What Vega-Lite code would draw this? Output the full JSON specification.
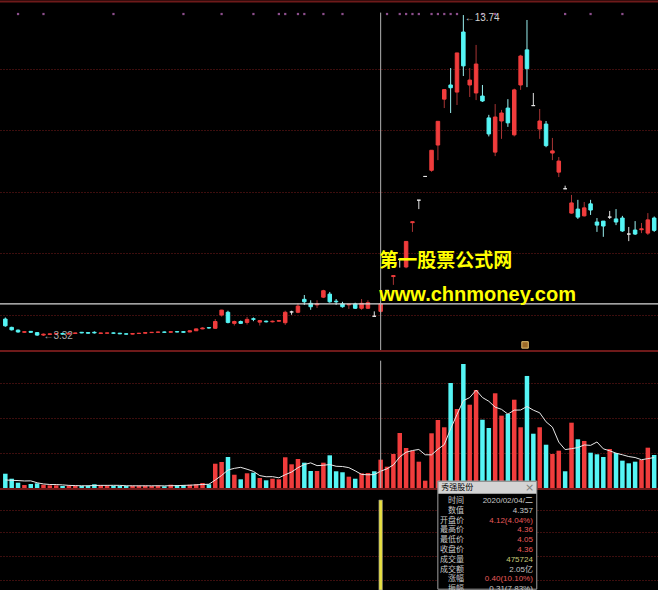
{
"$schema": "https://vega.github.io/schema/vega-lite/v6.json",
"background": "#000000",
"padding": 0,
"spacing": 0,
"bounds": "flush",
"config": {
  "view": {"stroke": null},
  "axis": {"labels": false, "ticks": false, "domain": false, "title": null, "grid": false, "gridColor": "#7a1c1c", "gridDash": [1, 2], "gridWidth": 1, "gridOpacity": 1},
  "concat": {"spacing": 0}
},
"datasets": {
  "k": [
    {"i":0,"o":3.87,"h":3.92,"l":3.62,"c":3.65,"v":24.0,"m":13.5},
    {"i":1,"o":3.60,"h":3.62,"l":3.50,"c":3.52,"v":15.6,"m":12.9},
    {"i":2,"o":3.51,"h":3.53,"l":3.43,"c":3.45,"v":8.9,"m":12.5,"s":1},
    {"i":3,"o":3.44,"h":3.47,"l":3.42,"c":3.46,"v":5.0,"m":11.8},
    {"i":4,"o":3.47,"h":3.48,"l":3.43,"c":3.44,"v":6.7,"m":12.0},
    {"i":5,"o":3.43,"h":3.44,"l":3.33,"c":3.35,"v":7.9,"m":8.8},
    {"i":6,"o":3.35,"h":3.40,"l":3.32,"c":3.38,"v":5.5,"m":6.8,"s":1},
    {"i":7,"o":3.37,"h":3.40,"l":3.35,"c":3.39,"v":4.5,"m":5.9},
    {"i":8,"o":3.38,"h":3.41,"l":3.36,"c":3.40,"v":4.5,"m":5.8},
    {"i":9,"o":3.40,"h":3.41,"l":3.37,"c":3.38,"v":3.4,"m":5.2},
    {"i":10,"o":3.38,"h":3.42,"l":3.37,"c":3.41,"v":3.9,"m":4.4},
    {"i":11,"o":3.40,"h":3.43,"l":3.39,"c":3.42,"v":3.9,"m":4.0},
    {"i":12,"o":3.44,"h":3.45,"l":3.41,"c":3.42,"v":3.4,"m":3.8},
    {"i":13,"o":3.43,"h":3.44,"l":3.40,"c":3.41,"v":3.9,"m":3.7},
    {"i":14,"o":3.44,"h":3.47,"l":3.40,"c":3.42,"v":6.2,"m":4.3},
    {"i":15,"o":3.40,"h":3.43,"l":3.39,"c":3.42,"v":4.5,"m":4.4},
    {"i":16,"o":3.41,"h":3.43,"l":3.40,"c":3.42,"v":3.9,"m":4.4},
    {"i":17,"o":3.42,"h":3.43,"l":3.40,"c":3.41,"v":3.9,"m":4.5,"s":1},
    {"i":18,"o":3.41,"h":3.42,"l":3.38,"c":3.39,"v":3.4,"m":4.4},
    {"i":19,"o":3.39,"h":3.40,"l":3.37,"c":3.38,"v":3.4,"m":3.8},
    {"i":20,"o":3.38,"h":3.41,"l":3.37,"c":3.40,"v":3.9,"m":3.7},
    {"i":21,"o":3.40,"h":3.42,"l":3.39,"c":3.41,"v":3.9,"m":3.7},
    {"i":22,"o":3.41,"h":3.44,"l":3.40,"c":3.43,"v":3.9,"m":3.7},
    {"i":23,"o":3.43,"h":3.45,"l":3.42,"c":3.44,"v":3.4,"m":3.7},
    {"i":24,"o":3.44,"h":3.46,"l":3.43,"c":3.45,"v":3.9,"m":3.8},
    {"i":25,"o":3.45,"h":3.46,"l":3.43,"c":3.44,"v":2.9,"m":3.6},
    {"i":26,"o":3.44,"h":3.47,"l":3.43,"c":3.46,"v":5.5,"m":3.9},
    {"i":27,"o":3.46,"h":3.47,"l":3.44,"c":3.45,"v":4.5,"m":4.0},
    {"i":28,"o":3.46,"h":3.47,"l":3.43,"c":3.44,"v":5.0,"m":4.4,"s":1},
    {"i":29,"o":3.45,"h":3.50,"l":3.44,"c":3.49,"v":5.5,"m":4.7},
    {"i":30,"o":3.49,"h":3.56,"l":3.48,"c":3.55,"v":6.2,"m":5.3},
    {"i":31,"o":3.55,"h":3.60,"l":3.54,"c":3.58,"v":8.4,"m":5.9},
    {"i":32,"o":3.59,"h":3.61,"l":3.56,"c":3.58,"v":6.2,"m":6.3},
    {"i":33,"o":3.57,"h":3.87,"l":3.55,"c":3.79,"v":40.8,"m":13.4},
    {"i":34,"o":4.00,"h":4.17,"l":3.95,"c":4.16,"v":43.7,"m":21.1,"s":1},
    {"i":35,"o":4.09,"h":4.14,"l":3.73,"c":3.76,"v":52.1,"m":30.2},
    {"i":36,"o":3.73,"h":3.82,"l":3.66,"c":3.79,"v":22.3,"m":33.0},
    {"i":37,"o":3.79,"h":3.82,"l":3.72,"c":3.73,"v":14.6,"m":34.7},
    {"i":38,"o":3.76,"h":3.94,"l":3.69,"c":3.86,"v":24.7,"m":31.5},
    {"i":39,"o":3.88,"h":3.92,"l":3.80,"c":3.86,"v":25.7,"m":27.9,"s":1},
    {"i":40,"o":3.77,"h":3.84,"l":3.66,"c":3.82,"v":16.8,"m":20.8},
    {"i":41,"o":3.80,"h":3.82,"l":3.76,"c":3.78,"v":12.9,"m":18.9},
    {"i":42,"o":3.78,"h":3.82,"l":3.76,"c":3.80,"v":15.6,"m":19.1},
    {"i":43,"o":3.80,"h":3.84,"l":3.78,"c":3.82,"v":14.6,"m":17.1,"s":1},
    {"i":44,"o":3.75,"h":4.14,"l":3.68,"c":4.09,"v":51.6,"m":22.3,"s":1},
    {"i":45,"o":4.10,"h":4.14,"l":4.01,"c":4.10,"pc":4.09,"v":39.8,"m":26.9},
    {"i":46,"o":4.09,"h":4.38,"l":4.06,"c":4.29,"v":48.7,"m":34.1,"s":1},
    {"i":47,"o":4.51,"h":4.65,"l":4.33,"c":4.43,"v":42.5,"m":39.4,"s":1},
    {"i":48,"o":4.38,"h":4.48,"l":4.17,"c":4.27,"v":28.6,"m":42.2},
    {"i":49,"o":4.33,"h":4.48,"l":4.23,"c":4.36,"v":28.6,"m":37.6},
    {"i":50,"o":4.58,"h":4.82,"l":4.55,"c":4.79,"v":42.5,"m":38.2,"s":1},
    {"i":51,"o":4.68,"h":4.75,"l":4.40,"c":4.43,"v":54.9,"m":39.4},
    {"i":52,"o":4.45,"h":4.52,"l":4.33,"c":4.43,"v":28.1,"m":36.5},
    {"i":53,"o":4.36,"h":4.43,"l":4.24,"c":4.27,"v":26.4,"m":36.1,"s":1},
    {"i":54,"o":4.33,"h":4.36,"l":4.20,"c":4.35,"v":19.0,"m":34.2},
    {"i":55,"o":4.36,"h":4.40,"l":4.20,"c":4.22,"v":15.6,"m":28.8},
    {"i":56,"o":4.22,"h":4.52,"l":4.17,"c":4.38,"v":24.7,"m":22.8},
    {"i":57,"o":4.22,"h":4.48,"l":4.20,"c":4.40,"v":25.2,"m":22.2},
    {"i":58,"o":3.96,"h":4.12,"l":3.96,"c":3.96,"pc":4.40,"v":28.1,"m":22.5},
    {"i":59,"o":4.12,"h":4.36,"l":4.05,"c":4.36,"v":47.6,"m":28.2,"ind":4.357},
    {"i":60,"o":4.80,"h":4.80,"l":4.80,"c":4.80,"pc":4.36,"v":35.8,"m":32.3,"s":1},
    {"i":61,"o":5.25,"h":5.28,"l":4.98,"c":5.28,"v":57.1,"m":38.8},
    {"i":62,"o":5.81,"h":5.81,"l":5.54,"c":5.81,"pc":5.28,"v":92.4,"m":52.2,"s":1},
    {"i":63,"o":5.56,"h":6.39,"l":5.52,"c":6.39,"v":67.2,"m":60.0,"s":1},
    {"i":64,"o":7.00,"h":7.03,"l":6.70,"c":7.03,"v":62.7,"m":63.0,"s":1},
    {"i":65,"o":7.73,"h":7.73,"l":7.44,"c":7.73,"pc":7.03,"v":44.2,"m":64.7,"s":1},
    {"i":66,"o":8.50,"h":8.50,"l":8.50,"c":8.50,"pc":7.73,"v":12.3,"m":55.8},
    {"i":67,"o":8.70,"h":9.35,"l":8.65,"c":9.35,"v":91.9,"m":55.7,"s":1},
    {"i":68,"o":9.52,"h":10.29,"l":9.03,"c":10.29,"v":114.2,"m":65.1,"s":1},
    {"i":69,"o":11.01,"h":11.32,"l":10.72,"c":11.32,"v":102.0,"m":72.9,"s":1},
    {"i":70,"o":11.47,"h":12.02,"l":10.56,"c":11.38,"v":176.4,"m":99.4,"s":1},
    {"i":71,"o":11.24,"h":12.51,"l":10.82,"c":12.51,"v":132.7,"m":123.4,"s":1},
    {"i":72,"o":13.19,"h":13.74,"l":11.76,"c":12.09,"v":208.3,"m":146.7},
    {"i":73,"o":11.47,"h":12.02,"l":11.08,"c":11.63,"v":139.9,"m":151.9},
    {"i":74,"o":11.21,"h":12.77,"l":10.98,"c":12.15,"v":164.6,"m":164.4},
    {"i":75,"o":11.11,"h":11.47,"l":10.92,"c":10.95,"v":114.7,"m":152.0,"s":1},
    {"i":76,"o":10.40,"h":10.50,"l":9.80,"c":9.88,"v":100.8,"m":145.7},
    {"i":77,"o":9.29,"h":10.85,"l":9.16,"c":10.43,"v":159.1,"m":135.8,"s":1},
    {"i":78,"o":10.30,"h":10.66,"l":9.72,"c":10.56,"v":121.5,"m":132.1},
    {"i":79,"o":10.72,"h":11.01,"l":10.11,"c":10.24,"v":124.3,"m":124.1},
    {"i":80,"o":9.85,"h":11.35,"l":9.80,"c":11.31,"v":148.3,"m":130.8},
    {"i":81,"o":11.47,"h":12.45,"l":11.31,"c":12.41,"v":102.0,"m":131.0},
    {"i":82,"o":12.61,"h":13.58,"l":11.40,"c":12.00,"v":188.2,"m":136.9},
    {"i":83,"o":10.80,"h":11.21,"l":10.80,"c":10.80,"pc":12.00,"v":91.2,"m":130.8},
    {"i":84,"o":10.04,"h":10.69,"l":9.72,"c":10.30,"v":102.0,"m":126.3},
    {"i":85,"o":10.20,"h":10.30,"l":9.45,"c":9.50,"v":72.7,"m":111.2},
    {"i":86,"o":9.26,"h":9.75,"l":9.03,"c":9.33,"v":57.1,"m":102.2},
    {"i":87,"o":8.64,"h":9.13,"l":8.48,"c":9.00,"v":62.7,"m":77.1},
    {"i":88,"o":8.10,"h":8.20,"l":8.10,"c":8.10,"pc":9.00,"v":28.1,"m":64.5,"s":1},
    {"i":89,"o":7.31,"h":7.90,"l":7.29,"c":7.64,"v":109.7,"m":66.1},
    {"i":90,"o":7.44,"h":7.74,"l":7.12,"c":7.18,"v":81.8,"m":67.9},
    {"i":91,"o":7.22,"h":7.67,"l":7.20,"c":7.48,"v":79.0,"m":72.3},
    {"i":92,"o":7.61,"h":7.74,"l":7.25,"c":7.41,"v":59.3,"m":71.6,"s":1},
    {"i":93,"o":7.02,"h":7.15,"l":6.70,"c":6.92,"v":56.6,"m":77.3},
    {"i":94,"o":7.05,"h":7.05,"l":6.54,"c":6.89,"v":52.1,"m":65.8},
    {"i":95,"o":7.18,"h":7.38,"l":7.12,"c":7.18,"pc":6.89,"v":65.5,"m":62.5},
    {"i":96,"o":7.12,"h":7.44,"l":6.92,"c":7.02,"v":58.8,"m":58.5},
    {"i":97,"o":7.15,"h":7.22,"l":6.70,"c":6.73,"v":45.9,"m":55.8,"s":1},
    {"i":98,"o":6.63,"h":6.86,"l":6.40,"c":6.63,"pc":6.73,"v":41.5,"m":52.8},
    {"i":99,"o":6.76,"h":7.05,"l":6.60,"c":6.63,"v":44.2,"m":51.2},
    {"i":100,"o":6.77,"h":6.99,"l":6.66,"c":6.80,"v":47.0,"m":47.5},
    {"i":101,"o":6.66,"h":7.31,"l":6.60,"c":7.09,"v":67.7,"m":49.3},
    {"i":102,"o":7.15,"h":7.20,"l":6.70,"c":6.75,"v":55.4,"m":51.2}
  ],
  "tip": [
    {"r":0,"k":"时间","v":"2020/02/04/二","t":"n"},
    {"r":1,"k":"数值","v":"4.357","t":"n"},
    {"r":2,"k":"开盘价","v":"4.12(4.04%)","t":"r"},
    {"r":3,"k":"最高价","v":"4.36","t":"r"},
    {"r":4,"k":"最低价","v":"4.05","t":"r"},
    {"r":5,"k":"收盘价","v":"4.36","t":"r"},
    {"r":6,"k":"成交量","v":"475724","t":"y"},
    {"r":7,"k":"成交额","v":"2.05亿","t":"n"},
    {"r":8,"k":"涨幅","v":"0.40(10.10%)","t":"r"},
    {"r":9,"k":"振幅","v":"0.31(7.83%)","t":"n"}
  ]
},
"vconcat": [
  {
    "width": 658, "height": 350,
    "data": {"name": "k"},
    "layer": [
      {"mark": {"type": "rule", "strokeWidth": 1, "clip": true},
       "encoding": {
         "x": {"field": "i", "type": "quantitative", "scale": {"domain": [-0.05, 101.81], "nice": false, "zero": false}, "axis": null},
         "y": {"field": "l", "type": "quantitative", "scale": {"domain": [2.865, 14.229], "nice": false, "zero": false}, "axis": {"grid": true, "values": [4, 6, 8, 10, 12]}},
         "y2": {"field": "h"},
         "stroke": {"condition": [{"test": "datum.c > datum.o", "value": "#a83434"}, {"test": "datum.c < datum.o", "value": "#9af0f0"}], "value": "#e0e0e0"}
       }},
      {"mark": {"type": "bar", "width": 3.5, "strokeWidth": 1, "clip": true},
       "encoding": {
         "x": {"field": "i", "type": "quantitative", "scale": {"domain": [-0.05, 101.81], "nice": false, "zero": false}, "axis": null},
         "y": {"field": "o", "type": "quantitative", "scale": {"domain": [2.865, 14.229], "nice": false, "zero": false}},
         "y2": {"field": "c"},
         "fill": {"condition": [{"test": "datum.c > datum.o", "value": "#f03c3c"}, {"test": "datum.c < datum.o", "value": "#55f5f5"}], "value": "#e8e8e8"},
         "stroke": {"condition": [{"test": "datum.c > datum.o", "value": "#f03c3c"}, {"test": "datum.c < datum.o", "value": "#55f5f5"}], "value": "#e8e8e8"}
       }},
      {"data": {"values": [{}]}, "mark": {"type": "rule", "stroke": "#6e1a1a", "strokeWidth": 2, "clip": true},
       "encoding": {"y": {"datum": 14.18, "type": "quantitative", "scale": {"domain": [2.865, 14.229], "nice": false, "zero": false}}}},
      {"data": {"values": [{}]}, "mark": {"type": "rule", "stroke": "#d8d8d8", "strokeWidth": 1.2, "clip": true},
       "encoding": {"y": {"datum": 4.36, "type": "quantitative", "scale": {"domain": [2.865, 14.229], "nice": false, "zero": false}}}},
      {"data": {"values": [{}]}, "mark": {"type": "rule", "stroke": "#b4b4b4", "strokeWidth": 1, "clip": true},
       "encoding": {
         "x": {"datum": 59, "type": "quantitative", "scale": {"domain": [-0.05, 101.81], "nice": false, "zero": false}},
         "y": {"datum": 13.82, "type": "quantitative", "scale": {"domain": [2.865, 14.229], "nice": false, "zero": false}},
         "y2": {"datum": 2.865}
       }},
      {"transform": [{"filter": "datum.s == 1"}],
       "mark": {"type": "square", "size": 5, "color": "#8c4e8c", "opacity": 1},
       "encoding": {
         "x": {"field": "i", "type": "quantitative", "scale": {"domain": [-0.05, 101.81], "nice": false, "zero": false}},
         "y": {"datum": 13.774, "type": "quantitative", "scale": {"domain": [2.865, 14.229], "nice": false, "zero": false}}
       }},
      {"data": {"values": [{}]}, "mark": {"type": "square", "size": 42, "fill": "#9a6a28", "stroke": "#e0c070", "strokeWidth": 1, "opacity": 1, "clip": true},
       "encoding": {
         "x": {"datum": 81.7, "type": "quantitative", "scale": {"domain": [-0.05, 101.81], "nice": false, "zero": false}},
         "y": {"datum": 3.03, "type": "quantitative", "scale": {"domain": [2.865, 14.229], "nice": false, "zero": false}}
       }},
      {"data": {"values": [{}]}, "mark": {"type": "text", "text": "←13.74", "align": "left", "baseline": "middle", "fontSize": 10, "font": "Liberation Sans", "color": "#d0d0d0"},
       "encoding": {
         "x": {"datum": 72.2, "type": "quantitative", "scale": {"domain": [-0.05, 101.81], "nice": false, "zero": false}},
         "y": {"datum": 13.635, "type": "quantitative", "scale": {"domain": [2.865, 14.229], "nice": false, "zero": false}}
       }},
      {"data": {"values": [{}]}, "mark": {"type": "text", "text": "←3.32", "align": "left", "baseline": "middle", "fontSize": 10, "font": "Liberation Sans", "color": "#a8a8a8"},
       "encoding": {
         "x": {"datum": 5.99, "type": "quantitative", "scale": {"domain": [-0.05, 101.81], "nice": false, "zero": false}},
         "y": {"datum": 3.32, "type": "quantitative", "scale": {"domain": [2.865, 14.229], "nice": false, "zero": false}}
       }},
      {"data": {"values": [{}]}, "mark": {"type": "text", "text": "第一股票公式网", "align": "left", "baseline": "middle", "fontSize": 19, "fontWeight": "bold", "font": "Noto Sans CJK SC", "color": "#ffff00"},
       "encoding": {
         "x": {"datum": 58.78, "type": "quantitative", "scale": {"domain": [-0.05, 101.81], "nice": false, "zero": false}},
         "y": {"datum": 5.755, "type": "quantitative", "scale": {"domain": [2.865, 14.229], "nice": false, "zero": false}}
       }},
      {"data": {"values": [{}]}, "mark": {"type": "text", "text": "www.chnmoney.com", "align": "left", "baseline": "middle", "fontSize": 20, "fontWeight": "bold", "font": "Liberation Sans", "color": "#ffff00"},
       "encoding": {
         "x": {"datum": 58.78, "type": "quantitative", "scale": {"domain": [-0.05, 101.81], "nice": false, "zero": false}},
         "y": {"datum": 4.65, "type": "quantitative", "scale": {"domain": [2.865, 14.229], "nice": false, "zero": false}}
       }}
    ]
  },
  {
    "width": 658, "height": 138,
    "data": {"name": "k"},
    "layer": [
      {"mark": {"type": "bar", "width": 4.5, "clip": true},
       "encoding": {
         "x": {"field": "i", "type": "quantitative", "scale": {"domain": [-0.05, 101.81], "nice": false, "zero": false}, "axis": null},
         "y": {"field": "v", "type": "quantitative", "scale": {"domain": [0, 231.8], "nice": false, "zero": true}, "axis": {"grid": true, "values": [58.8, 117.6, 176.4]}},
         "fill": {"condition": {"test": "datum.c > datum.o || (datum.c == datum.o && datum.c >= datum.pc)", "value": "#f03c3c"}, "value": "#55f5f5"}
       }},
      {"mark": {"type": "line", "stroke": "#e8e8e8", "strokeWidth": 1, "clip": true},
       "encoding": {
         "x": {"field": "i", "type": "quantitative", "scale": {"domain": [-0.05, 101.81], "nice": false, "zero": false}},
         "y": {"field": "m", "type": "quantitative", "scale": {"domain": [0, 231.8], "nice": false, "zero": true}}
       }},
      {"data": {"values": [{}]}, "mark": {"type": "rule", "stroke": "#b4b4b4", "strokeWidth": 1, "clip": true},
       "encoding": {
         "x": {"datum": 59, "type": "quantitative", "scale": {"domain": [-0.05, 101.81], "nice": false, "zero": false}},
         "y": {"datum": 213.9, "type": "quantitative", "scale": {"domain": [0, 231.8], "nice": false, "zero": true}},
         "y2": {"datum": 0}
       }},
      {"data": {"values": [{}]}, "mark": {"type": "rule", "stroke": "#6e1a1a", "strokeWidth": 2, "clip": true},
       "encoding": {"y": {"datum": 230.3, "type": "quantitative", "scale": {"domain": [0, 231.8], "nice": false, "zero": true}}}}
    ]
  },
  {
    "width": 658, "height": 102,
    "resolve": {"scale": {"y": "independent"}},
    "layer": [
      {"data": {"name": "k"}, "transform": [{"filter": "datum.ind > 0"}],
       "mark": {"type": "bar", "width": 3.5, "fill": "#e8e040", "stroke": "#8a8a8a", "strokeWidth": 0.6, "clip": true},
       "encoding": {
         "x": {"field": "i", "type": "quantitative", "scale": {"domain": [-0.05, 101.81], "nice": false, "zero": false}, "axis": null},
         "y": {"field": "ind", "type": "quantitative", "scale": {"domain": [0, 4.94], "nice": false, "zero": true}, "axis": {"grid": true, "values": [0.48, 1.65, 2.82, 3.87]}}
       }},
      {"data": {"values": [{}]}, "mark": {"type": "rule", "stroke": "#6e1a1a", "strokeWidth": 2, "clip": true},
       "encoding": {"y": {"datum": 4.89, "type": "quantitative", "scale": {"domain": [0, 4.94], "nice": false, "zero": true}, "axis": null}}},
      {
        "layer": [
          {"data": {"values": [{}]}, "mark": {"type": "rect", "fill": "#000000", "stroke": "#a0a0a0", "strokeWidth": 1},
           "encoding": {
             "x": {"datum": 67.99, "type": "quantitative", "scale": {"domain": [-0.05, 101.81], "nice": false, "zero": false}},
             "x2": {"datum": 83.54},
             "y": {"datum": -2.04, "type": "quantitative", "scale": {"domain": [-1.327, 9.082], "reverse": true, "nice": false, "zero": false}, "axis": null},
             "y2": {"datum": 9.0}
           }},
          {"data": {"values": [{}]}, "mark": {"type": "rect", "fill": "#d4d4d4"},
           "encoding": {
             "x": {"datum": 68.05, "type": "quantitative", "scale": {"domain": [-0.05, 101.81], "nice": false, "zero": false}},
             "x2": {"datum": 83.48},
             "y": {"datum": -1.98, "type": "quantitative", "scale": {"domain": [-1.327, 9.082], "reverse": true, "nice": false, "zero": false}, "axis": null},
             "y2": {"datum": -0.75}
           }},
          {"data": {"values": [{}]}, "mark": {"type": "text", "text": "秀强股份", "align": "left", "baseline": "middle", "fontSize": 8, "font": "Noto Sans CJK SC", "color": "#000000"},
           "encoding": {
             "x": {"datum": 68.53, "type": "quantitative", "scale": {"domain": [-0.05, 101.81], "nice": false, "zero": false}},
             "y": {"datum": -1.36, "type": "quantitative", "scale": {"domain": [-1.327, 9.082], "reverse": true, "nice": false, "zero": false}, "axis": null}
           }},
          {"data": {"values": [{}]}, "mark": {"type": "text", "text": "×", "align": "center", "baseline": "middle", "fontSize": 11, "font": "DejaVu Sans", "color": "#808080"},
           "encoding": {
             "x": {"datum": 82.4, "type": "quantitative", "scale": {"domain": [-0.05, 101.81], "nice": false, "zero": false}},
             "y": {"datum": -1.36, "type": "quantitative", "scale": {"domain": [-1.327, 9.082], "reverse": true, "nice": false, "zero": false}, "axis": null}
           }},
          {"data": {"name": "tip"}, "mark": {"type": "text", "align": "right", "baseline": "middle", "fontSize": 8, "font": "Noto Sans CJK SC", "color": "#c8c8c8", "clip": true},
           "encoding": {
             "x": {"datum": 72.09, "type": "quantitative", "scale": {"domain": [-0.05, 101.81], "nice": false, "zero": false}},
             "y": {"field": "r", "type": "quantitative", "scale": {"domain": [-1.327, 9.082], "reverse": true, "nice": false, "zero": false}, "axis": null},
             "text": {"field": "k"}
           }},
          {"data": {"name": "tip"}, "mark": {"type": "text", "align": "right", "baseline": "middle", "fontSize": 8, "font": "Liberation Sans, Noto Sans CJK SC", "clip": true},
           "encoding": {
             "x": {"datum": 82.93, "type": "quantitative", "scale": {"domain": [-0.05, 101.81], "nice": false, "zero": false}},
             "y": {"field": "r", "type": "quantitative", "scale": {"domain": [-1.327, 9.082], "reverse": true, "nice": false, "zero": false}, "axis": null},
             "text": {"field": "v"},
             "color": {"field": "t", "type": "nominal", "scale": {"domain": ["n", "r", "y"], "range": ["#c8c8c8", "#e85a5a", "#c8c878"]}, "legend": null}
           }}
        ]
      }
    ]
  }
]
}
